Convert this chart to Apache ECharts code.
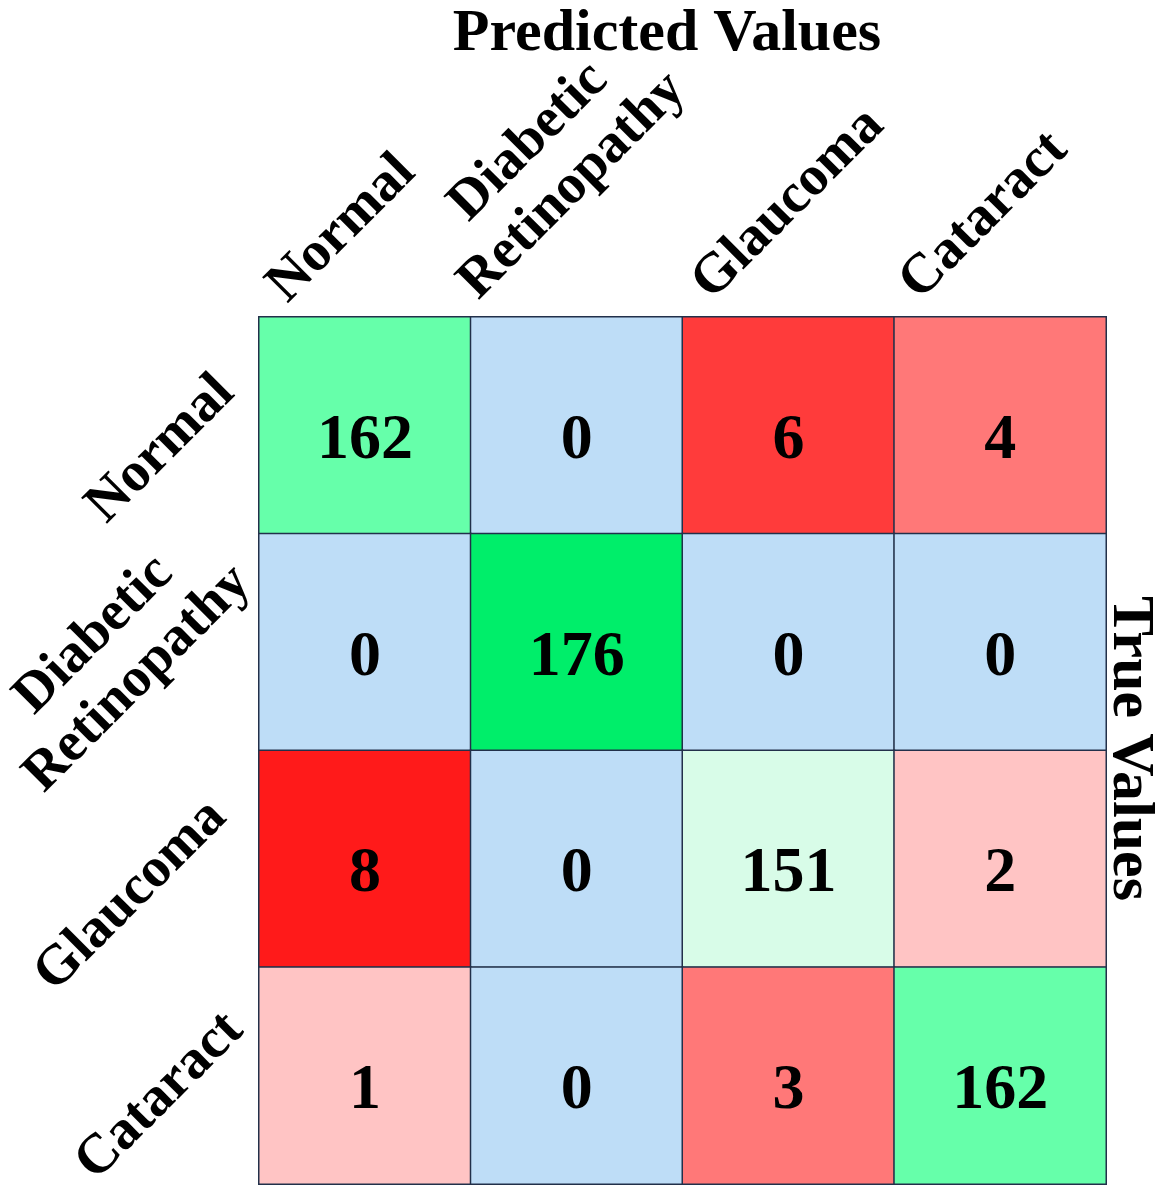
<!DOCTYPE html>
<html><head><meta charset="utf-8">
<script src="https://cdn.jsdelivr.net/npm/echarts@6/dist/echarts.min.js"></script>
<style>html,body{margin:0;padding:0;background:#fff}#c{width:1172px;height:1191px}</style>
</head><body><div id="c"></div>
<script>
// ---- data ----
const predictedLabels = ['Normal', 'Diabetic\nRetinopathy', 'Glaucoma', 'Cataract'];
const trueLabels = ['Normal', 'Diabetic\nRetinopathy', 'Glaucoma', 'Cataract'];
const rowNormal = [162, 0, 6, 4];
const rowDiabeticRetinopathy = [0, 176, 0, 0];
const rowGlaucoma = [8, 0, 151, 2];
const rowCataract = [1, 0, 3, 162];
const matrixRows = [rowNormal, rowDiabeticRetinopathy, rowGlaucoma, rowCataract];
const xAxisTitle = 'Predicted Values';
const yAxisTitle = 'True Values';

// ---- styling ----
const FONT = 'Liberation Serif, Times New Roman, serif';
function cellColor(r, c, v) {
  if (r === c) {
    if (v >= 170) return '#00EE6A';
    if (v >= 160) return '#66FFAA';
    return '#D8FCE8';
  }
  if (v === 0) return '#BEDDF7';
  if (v >= 8) return '#FF1A1A';
  if (v >= 5) return '#FF3B3B';
  if (v >= 3) return '#FF7878';
  return '#FFC4C4';
}
// label layout offsets (centre of rotated label relative to its tick)
const topLabelOffsets = [[-23, -88], [-26, -153], [0, -113], [-16, -101]];
const leftLabelOffsets = [[-98, 24], [-143, 15], [-128, 37], [-99, 21]];

const heatData = [];
matrixRows.forEach((row, r) => {
  row.forEach((v, c) => {
    heatData.push({
      value: [c, r, v],
      itemStyle: { color: cellColor(r, c, v), borderColor: '#22304a', borderWidth: 1.5 }
    });
  });
});

const chart = echarts.init(document.getElementById('c'), null, { renderer: 'canvas' });
const option = {
  animation: false,
  backgroundColor: '#ffffff',
  grid: { left: 259, right: 66, top: 317, bottom: 7, containLabel: false },
  xAxis: {
    type: 'category', position: 'top', data: predictedLabels,
    axisLine: { show: false }, axisTick: { show: false }, axisLabel: { show: false }, splitLine: { show: false }
  },
  yAxis: {
    type: 'category', inverse: true, data: trueLabels,
    axisLine: { show: false }, axisTick: { show: false }, axisLabel: { show: false }, splitLine: { show: false }
  },
  series: [{
    type: 'heatmap',
    data: heatData,
    label: {
      show: true, color: '#000', fontFamily: FONT, fontWeight: 'bold', fontSize: 64,
      offset: [0, 16],
      formatter: p => p.value[2]
    },
    emphasis: { disabled: true }
  }]
};
chart.setOption(option);

const gridTop = 317, gridLeft = 259;
const graphics = [];
predictedLabels.forEach((name, i) => {
  const px = chart.convertToPixel({ xAxisIndex: 0 }, i);
  graphics.push({
    type: 'text', x: px + topLabelOffsets[i][0], y: gridTop + topLabelOffsets[i][1], rotation: Math.PI / 4,
    style: { text: name, fontFamily: FONT, fontWeight: 'bold', fontSize: 56, lineHeight: 62, fill: '#000', align: 'center', verticalAlign: 'middle' }
  });
});
trueLabels.forEach((name, i) => {
  const py = chart.convertToPixel({ yAxisIndex: 0 }, i);
  graphics.push({
    type: 'text', x: gridLeft + leftLabelOffsets[i][0], y: py + leftLabelOffsets[i][1], rotation: Math.PI / 4,
    style: { text: name, fontFamily: FONT, fontWeight: 'bold', fontSize: 56, lineHeight: 62, fill: '#000', align: 'center', verticalAlign: 'middle' }
  });
});
graphics.push({
  type: 'text', x: 667, y: 34,
  style: { text: xAxisTitle, fontFamily: FONT, fontWeight: 'bold', fontSize: 60, fill: '#000', align: 'center', verticalAlign: 'middle' }
});
const midY = (chart.convertToPixel({ yAxisIndex: 0 }, 0) + chart.convertToPixel({ yAxisIndex: 0 }, 3)) / 2;
graphics.push({
  type: 'text', x: 1129, y: midY - 2, rotation: -Math.PI / 2,
  style: { text: yAxisTitle, fontFamily: FONT, fontWeight: 'bold', fontSize: 60, fill: '#000', align: 'center', verticalAlign: 'middle' }
});
chart.setOption({ graphic: graphics });
</script>
</body></html>
